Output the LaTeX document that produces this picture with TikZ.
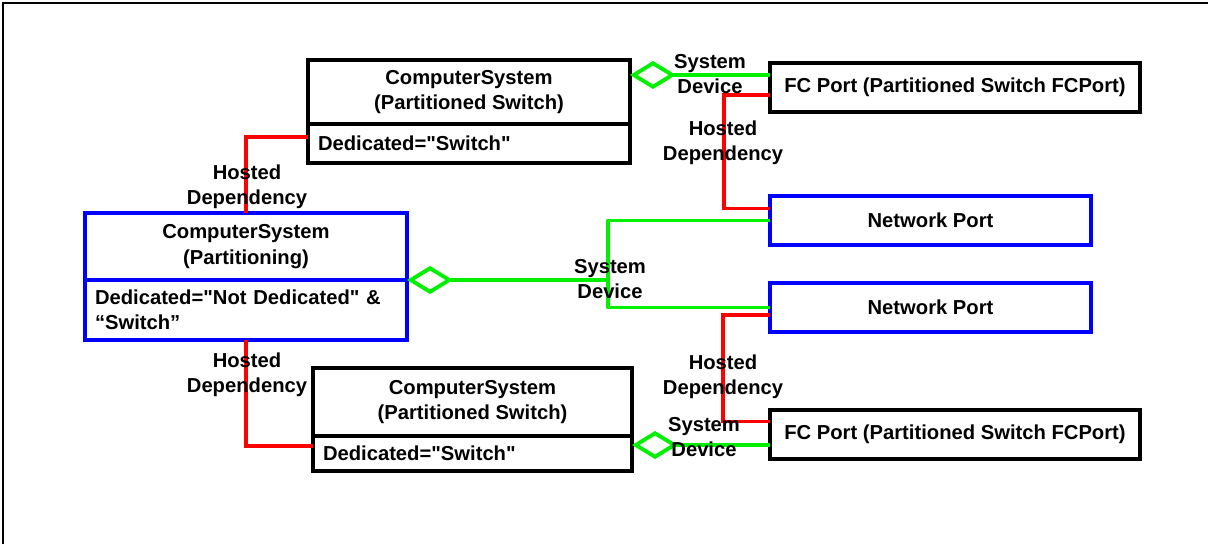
\documentclass[tikz,border=0pt]{standalone}
\usepackage{fontspec}
\setmainfont{Liberation Sans}
\usetikzlibrary{arrows.meta,positioning}
\definecolor{hdred}{RGB}{255,0,0}
\definecolor{sdgreen}{RGB}{0,240,0}
\definecolor{cpblue}{RGB}{0,0,255}
\tikzset{agg/.tip={Diamond[open,length=0.92cm,width=0.56cm]}}

\begin{document}
\begin{tikzpicture}[
    font=\fontsize{11.5}{14.5}\selectfont\bfseries,
    csbox/.style={draw, line width=2.2pt, outer sep=0pt, anchor=north west, align=center, minimum width=6.44cm},
    csattr/.style={draw, line width=2.2pt, outer sep=0pt, inner xsep=0.2cm, text width=6.04cm, align=left},
    portbox/.style={draw, line width=2.2pt, outer sep=0pt, anchor=north west, minimum height=0.98cm},
    hosted/.style={draw=hdred, line width=2.2pt},
    sysdev/.style={draw=sdgreen, line width=2.2pt, line join=round},
    lbl/.style={align=center}
]
    % Page and frame
    \useasboundingbox (0,0) rectangle (24.16,-10.88);
    \draw[line width=1pt] (0.06,-10.88) -- (0.06,-0.06) -- (24.16,-0.06);

    % Partitioned switch (top)
    \node[csbox, minimum height=1.28cm] (cs1top) at (6.16,-1.2) {ComputerSystem\\(Partitioned Switch)};
    \node[csattr, below=0pt of cs1top, minimum height=0.78cm] (cs1attr) {Dedicated=\textquotedbl Switch\textquotedbl};

    % Partitioning system
    \node[csbox, draw=cpblue, minimum height=1.34cm] (cs2top) at (1.7,-4.26) {ComputerSystem\\(Partitioning)};
    \node[csattr, draw=cpblue, below=0pt of cs2top, minimum height=1.2cm] (cs2attr) {Dedicated=\textquotedbl Not Dedicated\textquotedbl{} \&\\“Switch”};

    % Partitioned switch (bottom)
    \node[csbox, minimum width=6.38cm, minimum height=1.36cm] (cs3top) at (6.26,-7.36) {ComputerSystem\\(Partitioned Switch)};
    \node[csattr, text width=5.98cm, below=0pt of cs3top, minimum height=0.7cm] (cs3attr) {Dedicated=\textquotedbl Switch\textquotedbl};

    % Ports
    \node[portbox, minimum width=7.4cm] (fc1) at (15.4,-1.26) {FC Port (Partitioned Switch FCPort)};
    \node[portbox, draw=cpblue, minimum width=6.42cm] (np1) at (15.4,-3.92) {Network Port};
    \node[portbox, draw=cpblue, minimum width=6.42cm] (np2) at (15.4,-5.66) {Network Port};
    \node[portbox, minimum width=7.4cm] (fc2) at (15.4,-8.2) {FC Port (Partitioned Switch FCPort)};

    % Hosted dependency
    \draw[hosted] ([yshift=0.13cm]cs1attr.west) -| (cs2top.north);
    \draw[hosted] (cs2attr.south) |- ([yshift=0.15cm]cs3attr.west);
    \draw[hosted] ([yshift=-0.15cm]fc1.west) -- ++(-0.92,0) |- ([yshift=0.24cm]np1.west);
    \draw[hosted] ([yshift=-0.15cm]np2.west) -- ++(-0.94,0) |- ([yshift=0.26cm]fc2.west);

    % System device
    \coordinate (sdbus) at (12.16,-5.6);
    \draw[sysdev, agg-] ([yshift=0.34cm]cs1top.east) -- ([yshift=0.34cm]cs1top.east -| fc1.west);
    \draw[sysdev, agg-] (cs2top.south east) -- (sdbus);
    \draw[sysdev] (np1.west) -| (sdbus) |- (np2.west);
    \draw[sysdev, agg-] ([yshift=0.17cm]cs3attr.east) -- ([yshift=0.17cm]cs3attr.east -| fc2.west);

    % Labels
    \node[lbl] (sd1) at (14.2,-1.48) {System\\Device};
    \node[lbl] (hd1) at (14.46,-2.86) {Hosted\\Dependency};
    \node[lbl] (hd2) at (4.94,-3.74) {Hosted\\Dependency};
    \node[lbl] (sd2) at (12.2,-5.58) {System\\Device};
    \node[lbl] (hd3) at (4.94,-7.5) {Hosted\\Dependency};
    \node[lbl] (hd4) at (14.46,-7.54) {Hosted\\Dependency};
    \node[lbl] (sd3) at (14.08,-8.74) {System\\Device};
\end{tikzpicture}
\end{document}
